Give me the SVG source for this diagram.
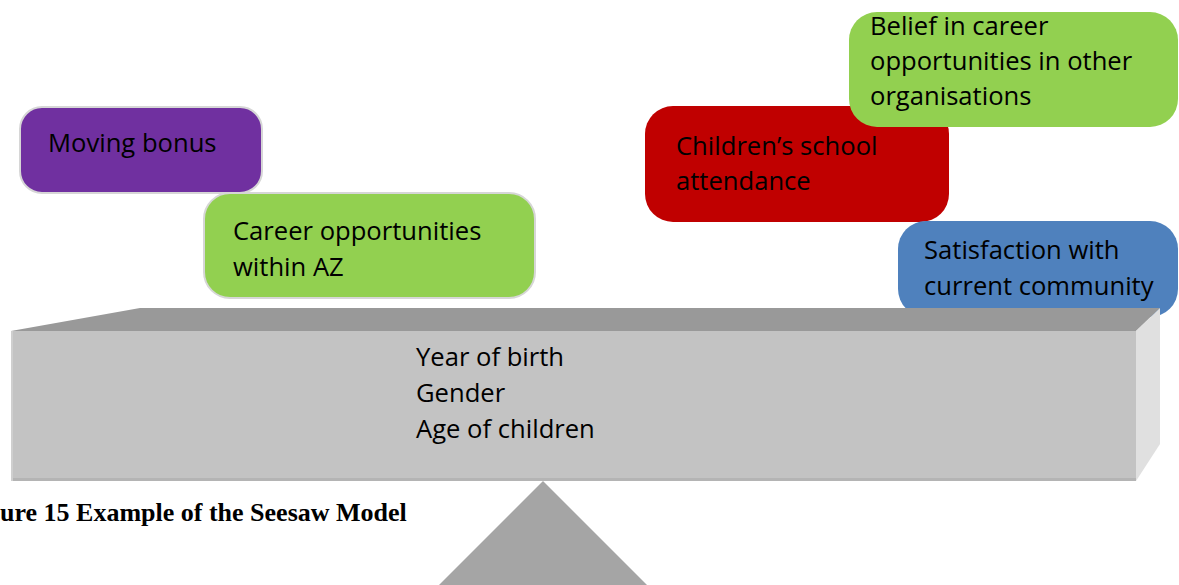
<svg xmlns="http://www.w3.org/2000/svg" width="1179" height="585" viewBox="0 0 1179 585">
<style>
.lbl{font-family:"Open Sans","Liberation Sans",sans-serif;font-size:25.6px;fill:#000}
.box{stroke:#d6d6d6;stroke-width:2}
.cap{font-family:"Liberation Serif",serif;font-size:26px;font-weight:bold;fill:#000}
</style>
<rect width="1179" height="585" fill="#fff"/>
<g id="moving-bonus"><rect class="box" x="20" y="107" width="242" height="86" rx="22" fill="#7030a0"/><text class="lbl" x="48" y="152">Moving bonus</text></g>
<g id="career-az"><rect class="box" x="204" y="193" width="331" height="105" rx="26" fill="#92d050"/><text class="lbl"><tspan x="233" y="240">Career opportunities</tspan><tspan x="233" y="276">within AZ</tspan></text></g>
<g id="children-school"><rect x="645" y="106" width="304" height="116" rx="28" fill="#c00000"/><text class="lbl"><tspan x="676" y="155">Children’s school</tspan><tspan x="676" y="190">attendance</tspan></text></g>
<g id="belief-career"><rect x="849" y="12" width="329" height="115" rx="28" fill="#92d050"/><text class="lbl"><tspan x="870" y="35">Belief in career</tspan><tspan x="870" y="70">opportunities in other</tspan><tspan x="870" y="105">organisations</tspan></text></g>
<g id="satisfaction"><rect x="898" y="221" width="280" height="96" rx="28" fill="#4f81bd"/><text class="lbl"><tspan x="924" y="259">Satisfaction with</tspan><tspan x="924" y="295">current community</tspan></text></g>
<g id="fulcrum"><polygon points="543,481 647,585 439,585" fill="#a5a5a5"/></g>
<g id="beam">
<polygon points="11,331 140,308 1160,308 1136,331" fill="#999999"/>
<polygon points="1136,331 1160,308 1160,444 1136,481" fill="#e0e0e0"/>
<rect x="11" y="331" width="1125" height="150" fill="#c3c3c3"/>
<rect x="11" y="478" width="1125" height="3" fill="#b4b4b4"/>
<rect x="11" y="331" width="2" height="150" fill="#cfcfcf"/>
<text class="lbl"><tspan x="416" y="366">Year of birth</tspan><tspan x="416" y="402">Gender</tspan><tspan x="416" y="438">Age of children</tspan></text>
</g>
<g id="connectors"/>
<text class="cap" x="0" y="521">ure 15 Example of the Seesaw Model</text>
</svg>
